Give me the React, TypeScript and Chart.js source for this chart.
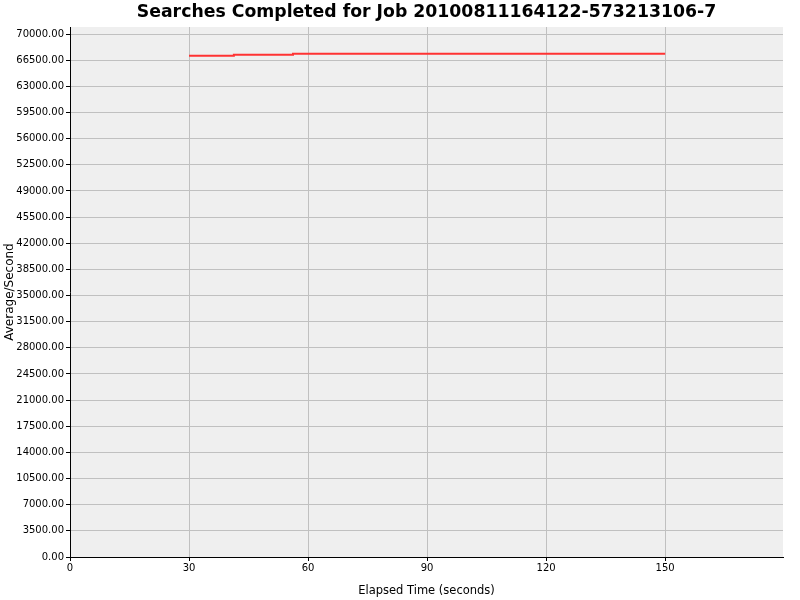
import React, { useEffect, useRef } from "react";
import { Chart, registerables } from "chart.js";

Chart.register(...registerables);

const chartTitle = "Searches Completed for Job 20100811164122-573213106-7";
const xAxisTitle = "Elapsed Time (seconds)";
const yAxisTitle = "Average/Second";

// readings
const elapsedSeconds = [30, 41.3, 56.2, 150];
const averagePerSecond = [67100, 67230, 67350, 67350];
const xTickValues = [0, 30, 60, 90, 120, 150];
const yTickValues = [
  0, 3500, 7000, 10500, 14000, 17500, 21000, 24500, 28000, 31500, 35000,
  38500, 42000, 45500, 49000, 52500, 56000, 59500, 63000, 66500, 70000,
];

const FONT = "'DejaVu Sans', 'Liberation Sans', sans-serif";

const backdrop = {
  id: "backdrop",
  beforeDraw(chart: Chart) {
    const { ctx, chartArea, width, height } = chart;
    ctx.save();
    ctx.fillStyle = "#ffffff";
    ctx.fillRect(0, 0, width, height);
    ctx.fillStyle = "#efefef";
    ctx.fillRect(chartArea.left, chartArea.top, chartArea.right - chartArea.left, chartArea.bottom - chartArea.top);
    ctx.restore();
  },
  afterDraw(chart: Chart) {
    const { ctx, chartArea } = chart;
    ctx.save();
    ctx.font = "bold 17.3px " + FONT;
    ctx.fillStyle = "#000";
    ctx.textAlign = "center";
    ctx.textBaseline = "middle";
    ctx.fillText(chartTitle, (chartArea.left + chartArea.right) / 2, 13);
    ctx.restore();
  },
};

export default function App() {
  const canvasRef = useRef<HTMLCanvasElement | null>(null);

  useEffect(() => {
    const ctx = canvasRef.current?.getContext("2d");
    if (!ctx) return;

    const points = elapsedSeconds.map((x, i) => ({ x, y: averagePerSecond[i] }));

    const chart = new Chart(ctx, {
      type: "scatter",
      data: {
        datasets: [
          {
            label: "Searches",
            data: points,
            showLine: true,
            stepped: true,
            borderColor: "rgb(255,51,51)",
            backgroundColor: "rgb(255,51,51)",
            borderWidth: 2,
            pointRadius: 0,
            fill: false,
          },
        ],
      },
      options: {
        animation: false,
        responsive: true,
        maintainAspectRatio: false,
        devicePixelRatio: 1,
        layout: { padding: { top: 27, right: 17, left: 0, bottom: 0 } },
        plugins: {
          legend: { display: false },
          tooltip: { enabled: false },
          title: { display: false },
        },
        scales: {
          x: {
            type: "linear",
            min: 0,
            max: 179.7,
            afterBuildTicks: (scale: any) => {
              scale.ticks = xTickValues.map((v) => ({ value: v }));
            },
            afterFit: (scale: any) => {
              scale.height = 43;
            },
            ticks: {
              autoSkip: false,
              maxRotation: 0,
              padding: 1,
              color: "#000",
              font: { family: FONT, size: 10 },
              callback: (v: any) => String(v),
            },
            grid: {
              color: "#c0c0c0",
              lineWidth: 1,
              tickColor: "#000",
              tickLength: 4,
            },
            border: { color: "#000", width: 1 },
            title: {
              display: true,
              text: xAxisTitle,
              color: "#000",
              font: { family: FONT, size: 11.5 },
              padding: { top: 2, bottom: 2 },
            },
          },
          y: {
            type: "linear",
            min: 0,
            max: 70940,
            afterBuildTicks: (scale: any) => {
              scale.ticks = yTickValues.map((v) => ({ value: v }));
            },
            afterFit: (scale: any) => {
              scale.width = 70;
            },
            ticks: {
              autoSkip: false,
              padding: 2,
              color: "#000",
              font: { family: FONT, size: 10 },
              callback: (v: any) => Number(v).toFixed(2),
            },
            grid: {
              color: "#c0c0c0",
              lineWidth: 1,
              tickColor: "#000",
              tickLength: 4,
            },
            border: { color: "#000", width: 1 },
            title: {
              display: true,
              text: yAxisTitle,
              color: "#000",
              font: { family: FONT, size: 12 },
              padding: { top: 3, bottom: 3 },
            },
          },
        },
      },
      plugins: [backdrop],
    });

    return () => {
      chart.destroy();
    };
  }, []);

  return (
    <div style={{ position: "fixed", left: 0, top: 0, width: 800, height: 600 }}>
      <canvas ref={canvasRef}></canvas>
    </div>
  );
}
